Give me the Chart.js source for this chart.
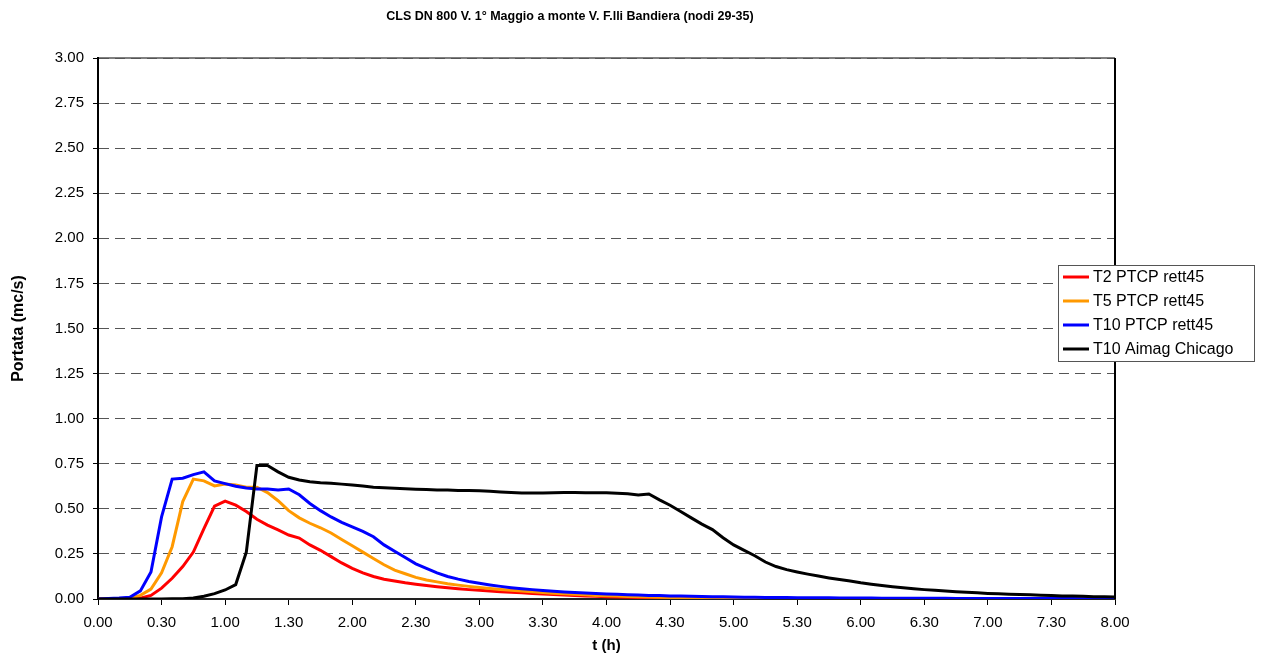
<!DOCTYPE html>
<html>
<head>
<meta charset="utf-8">
<title>CLS DN 800 V. 1° Maggio a monte V. F.lli Bandiera</title>
<script src="https://cdn.jsdelivr.net/npm/chart.js@4.4.1/dist/chart.umd.min.js"></script>
<style>
    html, body { margin: 0; padding: 0; background: #fff; }
    #wrap { width: 1262px; height: 659px; }
</style>
</head>
<body>
<div id="wrap"><canvas id="chart" width="1262" height="659"></canvas></div>
<script>
// 📊 Data (time in minutes, flow in mc/s, one value every 5 min)
const minutes = [
    0, 5, 10, 15, 20, 25, 30, 35, 40, 45, 50, 55,
    60, 65, 70, 75, 80, 85, 90, 95, 100, 105, 110, 115,
    120, 125, 130, 135, 140, 145, 150, 155, 160, 165, 170, 175,
    180, 185, 190, 195, 200, 205, 210, 215, 220, 225, 230, 235,
    240, 245, 250, 255, 260, 265, 270, 275, 280, 285, 290, 295,
    300, 305, 310, 315, 320, 325, 330, 335, 340, 345, 350, 355,
    360, 365, 370, 375, 380, 385, 390, 395, 400, 405, 410, 415,
    420, 425, 430, 435, 440, 445, 450, 455, 460, 465, 470, 475, 480
];

const t2Ptcp = [
    0, 0, 0, 0, 0.005, 0.02, 0.06, 0.115, 0.18, 0.26, 0.39, 0.515,
    0.543, 0.52, 0.485, 0.442, 0.41, 0.383, 0.355, 0.338, 0.3, 0.27, 0.235, 0.2,
    0.17, 0.145, 0.125, 0.11, 0.1, 0.09, 0.082, 0.075, 0.068, 0.062, 0.057, 0.052,
    0.048, 0.044, 0.04, 0.037, 0.034, 0.031, 0.028, 0.025, 0.022, 0.019, 0.017, 0.015,
    0.013, 0.011, 0.01, 0.009, 0.008, 0.007, 0.006, 0.005, 0.0045, 0.004, 0.0035, 0.003,
    0.0027, 0.0024, 0.0021, 0.0019, 0.0017, 0.0015, 0.0013, 0.0012, 0.0011, 0.001, 0.0009, 0.0008,
    0.0007, 0.0007, 0.0006, 0.0006, 0.0005, 0.0005, 0.0004, 0.0004, 0.0004, 0.0003, 0.0003, 0.0003,
    0.0003, 0.0002, 0.0002, 0.0002, 0.0002, 0.0002, 0.0002, 0.0002, 0.0002, 0.0002, 0.0002, 0.0002, 0.0002
];

const t5Ptcp = [
    0, 0, 0, 0.005, 0.02, 0.055, 0.145, 0.29, 0.54, 0.665, 0.655, 0.627,
    0.637, 0.632, 0.62, 0.62, 0.59, 0.545, 0.49, 0.45, 0.42, 0.395, 0.366, 0.33,
    0.295, 0.26, 0.225, 0.19, 0.16, 0.14, 0.12, 0.105, 0.095, 0.085, 0.077, 0.07,
    0.064, 0.058, 0.053, 0.048, 0.044, 0.04, 0.036, 0.032, 0.029, 0.026, 0.023, 0.02,
    0.018, 0.016, 0.014, 0.012, 0.011, 0.01, 0.009, 0.008, 0.007, 0.0065, 0.006, 0.0055,
    0.005, 0.0046, 0.0042, 0.0039, 0.0036, 0.0033, 0.003, 0.0028, 0.0026, 0.0024, 0.0022, 0.002,
    0.0019, 0.0018, 0.0017, 0.0016, 0.0015, 0.0014, 0.0013, 0.0012, 0.0011, 0.001, 0.001, 0.0009,
    0.0009, 0.0008, 0.0008, 0.0007, 0.0007, 0.0006, 0.0006, 0.0005, 0.0005, 0.0005, 0.0004, 0.0004, 0.0004
];

const t10Ptcp = [
    0, 0.003, 0.005, 0.01, 0.045, 0.15, 0.455, 0.665, 0.67, 0.69, 0.705, 0.655,
    0.64, 0.625, 0.615, 0.61, 0.61, 0.605, 0.61, 0.578, 0.53, 0.49, 0.455, 0.425,
    0.4, 0.375, 0.345, 0.3, 0.265, 0.23, 0.195, 0.17, 0.145, 0.125, 0.11, 0.097,
    0.087, 0.078, 0.07, 0.063, 0.057, 0.052, 0.047, 0.043, 0.039, 0.036, 0.033, 0.03,
    0.028, 0.026, 0.024, 0.022, 0.02, 0.019, 0.017, 0.016, 0.015, 0.014, 0.013, 0.012,
    0.011, 0.01, 0.0095, 0.009, 0.0085, 0.008, 0.0075, 0.007, 0.0067, 0.0064, 0.006, 0.0057,
    0.0054, 0.0051, 0.0048, 0.0045, 0.0043, 0.0041, 0.0039, 0.0037, 0.0035, 0.0033, 0.0031, 0.003,
    0.0029, 0.0028, 0.0027, 0.0026, 0.0025, 0.0024, 0.0023, 0.0022, 0.0021, 0.002, 0.002, 0.0019, 0.0019
];

const t10Chicago = [
    0, 0, 0, 0, 0, 0, 0, 0.001, 0.002, 0.005, 0.015, 0.03,
    0.05, 0.08, 0.26, 0.74, 0.74, 0.705, 0.675, 0.66, 0.65, 0.645, 0.642, 0.637,
    0.632, 0.626, 0.62, 0.617, 0.614, 0.611, 0.609, 0.607, 0.605, 0.604, 0.602, 0.601,
    0.6, 0.597, 0.594, 0.591, 0.588, 0.588, 0.588, 0.589, 0.59, 0.59, 0.589, 0.589,
    0.589, 0.586, 0.583, 0.577, 0.582, 0.55, 0.52, 0.485, 0.45, 0.415, 0.385, 0.34,
    0.3, 0.27, 0.24, 0.205, 0.18, 0.163, 0.15, 0.138, 0.127, 0.117, 0.108, 0.1,
    0.09, 0.082, 0.075, 0.068, 0.062, 0.057, 0.052, 0.048, 0.044, 0.04, 0.037, 0.034,
    0.031, 0.029, 0.027, 0.025, 0.023, 0.021, 0.019, 0.017, 0.016, 0.015, 0.013, 0.012, 0.011
];

const seriesNames = ["T2 PTCP rett45", "T5 PTCP rett45", "T10 PTCP rett45", "T10 Aimag Chicago"];
const seriesColors = ["#ff0000", "#ff9900", "#0000ff", "#000000"];

const xTickValues = [0, 0.5, 1, 1.5, 2, 2.5, 3, 3.5, 4, 4.5, 5, 5.5, 6, 6.5, 7, 7.5, 8];
const xTickLabels = ["0.00", "0.30", "1.00", "1.30", "2.00", "2.30", "3.00", "3.30", "4.00",
                     "4.30", "5.00", "5.30", "6.00", "6.30", "7.00", "7.30", "8.00"];
const yTickValues = [0, 0.25, 0.5, 0.75, 1, 1.25, 1.5, 1.75, 2, 2.25, 2.5, 2.75, 3];
const yTickLabels = ["0.00", "0.25", "0.50", "0.75", "1.00", "1.25", "1.50", "1.75",
                     "2.00", "2.25", "2.50", "2.75", "3.00"];

const FONT = "'Liberation Sans', Arial, sans-serif";

function toPoints(values) {
    return values.map((v, i) => ({ x: minutes[i] / 60, y: v }));
}

// title + frame + legend box, drawn by hand like the Excel original
const excelLook = {
    id: "excelLook",
    beforeDraw(chart) {
        const { ctx, chartArea: a } = chart;
        ctx.save();
        ctx.strokeStyle = "#808080";
        ctx.lineWidth = 2;
        ctx.beginPath();
        ctx.moveTo(a.left, a.top);
        ctx.lineTo(a.right, a.top);
        ctx.stroke();
        ctx.restore();
    },
    afterDatasetsDraw(chart) {
        const { ctx, chartArea: a } = chart;
        ctx.save();
        ctx.strokeStyle = "#000";
        ctx.lineWidth = 2;
        ctx.beginPath();
        ctx.moveTo(a.right, a.top);
        ctx.lineTo(a.right, a.bottom);
        ctx.stroke();
        ctx.restore();
    },
    afterDraw(chart) {
        const ctx = chart.ctx;
        ctx.save();

        // chart title
        ctx.fillStyle = "#000";
        ctx.font = "bold 12.5px " + FONT;
        ctx.textAlign = "center";
        ctx.textBaseline = "middle";
        ctx.fillText("CLS DN 800 V. 1° Maggio a monte V. F.lli Bandiera (nodi 29-35)", 570, 17);

        // legend
        const box = { x: 1058.5, y: 265.5, w: 196, h: 96 };
        ctx.fillStyle = "#fff";
        ctx.fillRect(box.x, box.y, box.w, box.h);
        ctx.strokeStyle = "#555";
        ctx.lineWidth = 1;
        ctx.strokeRect(box.x, box.y, box.w, box.h);

        ctx.font = "16px " + FONT;
        ctx.textAlign = "left";
        chart.data.datasets.forEach((ds, i) => {
            const rowY = 277 + i * 24;
            ctx.strokeStyle = ds.borderColor;
            ctx.lineWidth = 3;
            ctx.beginPath();
            ctx.moveTo(1063, rowY);
            ctx.lineTo(1089, rowY);
            ctx.stroke();
            ctx.fillStyle = "#000";
            ctx.fillText(ds.label, 1093, rowY + 1);
        });
        ctx.restore();
    }
};

const allSeries = [t2Ptcp, t5Ptcp, t10Ptcp, t10Chicago];

const chart = new Chart(document.getElementById("chart"), {
    type: "line",
    data: {
        datasets: allSeries.map((values, i) => ({
            label: seriesNames[i],
            data: toPoints(values),
            borderColor: seriesColors[i],
            backgroundColor: seriesColors[i],
            borderWidth: 3,
            pointRadius: 0,
            tension: 0,
            fill: false,
            order: allSeries.length - 1 - i
        }))
    },
    options: {
        responsive: false,
        animation: false,
        devicePixelRatio: 1,
        layout: { padding: { top: 58, right: 147, left: 0, bottom: 0 } },
        plugins: {
            legend: { display: false },
            title: { display: false },
            tooltip: { enabled: false }
        },
        scales: {
            x: {
                type: "linear",
                min: 0,
                max: 8,
                afterFit: (scale) => { scale.height = 60; },
                afterBuildTicks: (scale) => { scale.ticks = xTickValues.map(v => ({ value: v })); },
                ticks: {
                    autoSkip: false,
                    maxRotation: 0,
                    padding: 9,
                    color: "#000",
                    font: { family: FONT, size: 15 },
                    callback: (v, i) => xTickLabels[i]
                },
                grid: {
                    drawOnChartArea: false,
                    drawTicks: true,
                    tickLength: 6,
                    tickColor: "#000",
                    color: "#000"
                },
                border: { display: true, color: "#222", width: 2 },
                title: {
                    display: true,
                    text: "t (h)",
                    color: "#000",
                    font: { family: FONT, size: 15, weight: "bold" },
                    padding: { top: 0, bottom: 4 }
                }
            },
            y: {
                min: 0,
                max: 3,
                afterFit: (scale) => { scale.width = 98; },
                afterBuildTicks: (scale) => { scale.ticks = yTickValues.map(v => ({ value: v })); },
                ticks: {
                    padding: 9,
                    color: "#000",
                    font: { family: FONT, size: 15 },
                    callback: (v, i) => yTickLabels[i]
                },
                grid: {
                    color: "#555",
                    lineWidth: 1,
                    tickLength: 5,
                    tickColor: "#000",
                    tickBorderDash: []
                },
                border: { display: true, color: "#000", width: 2, dash: [10, 6] },
                title: {
                    display: true,
                    text: "Portata (mc/s)",
                    color: "#000",
                    font: { family: FONT, size: 16, weight: "bold" },
                    padding: { top: 9, bottom: 0 }
                }
            }
        }
    },
    plugins: [excelLook]
});
</script>
</body>
</html>
